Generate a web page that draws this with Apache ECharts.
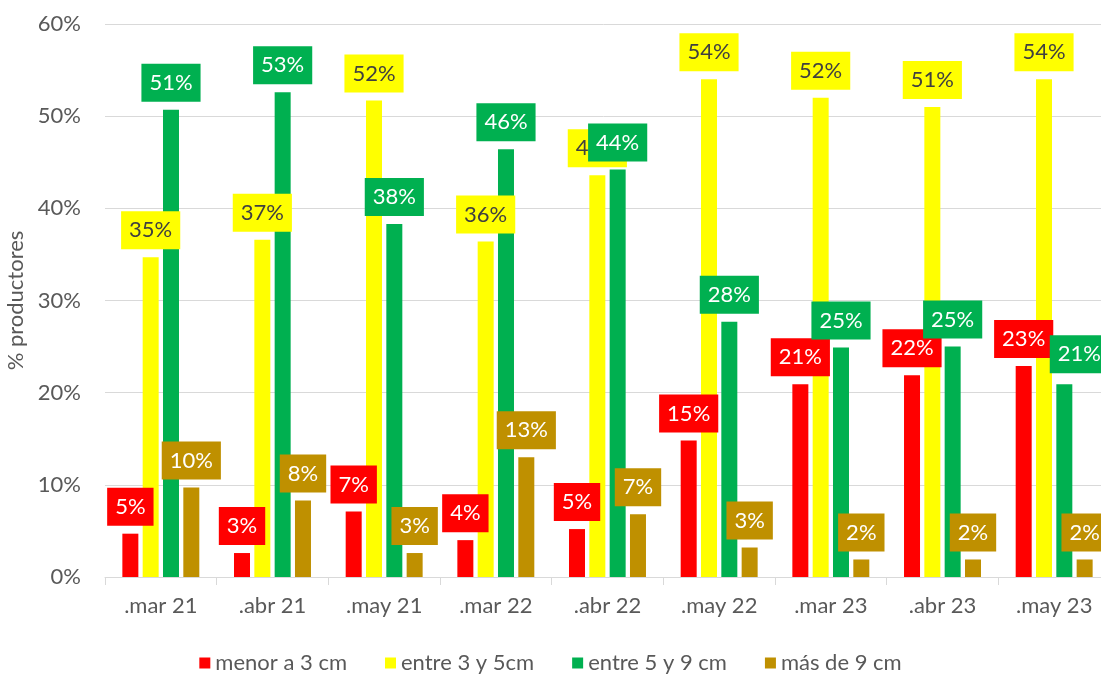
<!DOCTYPE html>
<html>
<head>
<meta charset="utf-8">
<script src="https://cdn.jsdelivr.net/npm/echarts@6/dist/echarts.min.js"></script>
<style>
html,body{margin:0;padding:0;background:#fff;}
#chart{width:1101px;height:674px;}
</style>
</head>
<body>
<div id="chart"></div>
<script>
const categories = ['.mar 21', '.abr 21', '.may 21', '.mar 22', '.abr 22', '.may 22', '.mar 23', '.abr 23', '.may 23'];
const seriesNames = ['menor a 3 cm', 'entre 3 y 5cm', 'entre 5 y 9 cm', 'más de 9 cm'];
const menor3 = [4.7, 2.6, 7.1, 4.0, 5.2, 14.8, 20.9, 21.9, 22.9];
const entre3y5 = [34.7, 36.6, 51.7, 36.4, 43.6, 54.0, 52.0, 51.0, 54.0];
const entre5y9 = [50.7, 52.6, 38.3, 46.4, 44.2, 27.7, 24.9, 25.0, 20.9];
const mas9 = [9.7, 8.3, 2.6, 13.0, 6.8, 3.2, 1.9, 1.9, 1.9];
const yTicks = [0, 10, 20, 30, 40, 50, 60];

const colors = ['#FF0000', '#FFFF00', '#00B050', '#BF9000'];
const labelText = ['#FFFFFF', '#404040', '#FFFFFF', '#FFFFFF'];
const FONT = 'Lato';

function makeSeries(name, values, idx) {
  return {
    name: name,
    type: 'bar',
    barWidth: 16,
    barGap: '27%',
    itemStyle: { color: colors[idx] },
    data: values.map((v, i) => {
      if (idx === 2 && i === 8) return { value: v, label: { offset: [15, -3] } };
      return v;
    }),
    label: {
      show: true,
      position: 'top',
      distance: 8,
      formatter: p => Math.round(p.value) + '%',
      color: labelText[idx],
      backgroundColor: colors[idx],
      fontFamily: FONT,
      fontSize: 22,
      lineHeight: 24,
      padding: [7, 8, 7, 8]
    }
  };
}

const chart = echarts.init(document.getElementById('chart'), null, { renderer: 'canvas' });
chart.setOption({
  animation: false,
  backgroundColor: '#ffffff',
  textStyle: { fontFamily: FONT },
  grid: { left: 105, right: -9, top: 24, bottom: 97, containLabel: false, outerBoundsMode: 'none' },
  legend: {
    top: 647,
    left: 'center',
    itemWidth: 11,
    itemHeight: 11,
    itemGap: 38,
    icon: 'rect',
    textStyle: { color: '#595959', fontSize: 22, fontFamily: FONT },
    data: seriesNames
  },
  xAxis: {
    type: 'category',
    data: categories,
    axisLine: { lineStyle: { color: '#D9D9D9', width: 1 } },
    axisTick: { show: true, length: 8, lineStyle: { color: '#D9D9D9' } },
    axisLabel: { color: '#595959', fontSize: 22, fontFamily: FONT, margin: 18 }
  },
  yAxis: {
    type: 'value',
    min: yTicks[0],
    max: yTicks[yTicks.length - 1],
    interval: 10,
    name: '% productores',
    nameLocation: 'middle',
    nameGap: 78,
    nameRotate: 90,
    nameTextStyle: { color: '#595959', fontSize: 22, fontFamily: FONT },
    axisLine: { show: false },
    axisTick: { show: false },
    splitLine: { lineStyle: { color: '#D9D9D9', width: 1 } },
    axisLabel: { color: '#595959', fontSize: 22, fontFamily: FONT, margin: 24, formatter: '{value}%' }
  },
  series: [
    makeSeries(seriesNames[0], menor3, 0),
    makeSeries(seriesNames[1], entre3y5, 1),
    makeSeries(seriesNames[2], entre5y9, 2),
    makeSeries(seriesNames[3], mas9, 3)
  ]
});
</script>
</body>
</html>
